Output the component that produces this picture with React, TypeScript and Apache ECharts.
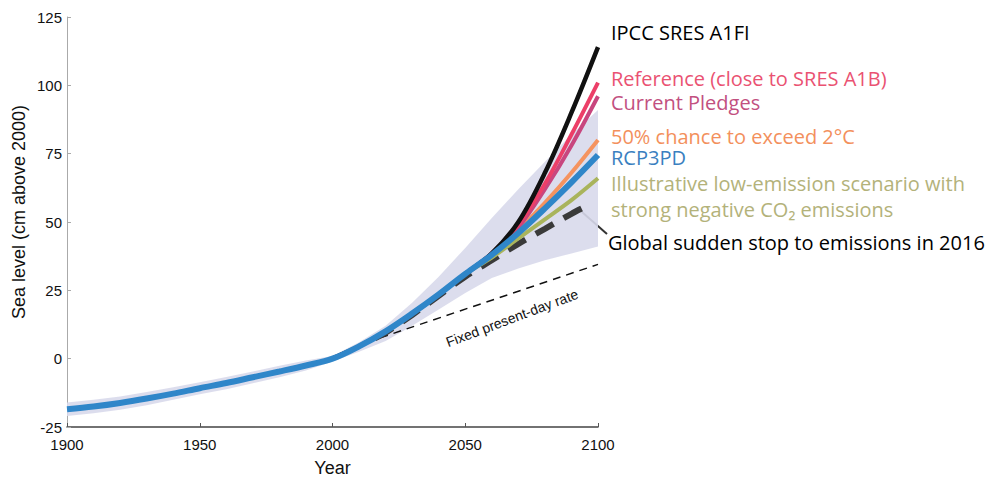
import React, { useEffect, useRef } from "react";
import * as echarts from "echarts";

// Observed sea level, 1900-2000 (cm relative to 2000)
const histYears = [1900, 1910, 1920, 1930, 1940, 1950, 1960, 1970, 1980, 1990, 2000];
const histLevel = [-18.5, -17.5, -16.2, -14.6, -12.8, -10.8, -8.9, -6.8, -4.7, -2.5, 0];

// Scenario projections, 2000-2100
const projYears = [2000, 2010, 2020, 2030, 2040, 2050, 2060, 2070, 2080, 2090, 2100];
const a1fi = [0, 4.5, 10, 16.5, 23.5, 31, 38.5, 50, 68, 90, 114];
const reference = [0, 4.5, 10, 16.5, 23.5, 31, 38.5, 49, 64, 82, 101];
const pledges = [0, 4.5, 10, 16.5, 23.5, 31, 38.5, 48, 62, 78, 96];
const twoDegree = [0, 4.5, 10, 16.5, 23.5, 31, 38, 47, 57, 68, 80];
const rcp3pd = [0, 4.5, 10, 16.5, 23.5, 31, 38, 46, 55, 64.5, 74.5];
const lowEmission = [0, 4.5, 10, 16.5, 23.5, 31, 37, 44, 51, 58, 66];

// Global sudden stop to emissions in 2016
const stopYears = [2016, 2020, 2030, 2040, 2050, 2060, 2070, 2080, 2090, 2095];
const stopLevel = [7.5, 9.5, 16, 23, 30, 36, 42, 47.5, 53, 55.5];

// Fixed present-day rate
const fixedYears = [2013, 2100];
const fixedLevel = [6, 34.5];

// Uncertainty range
const bandYears = [
  1900, 1910, 1920, 1930, 1940, 1950, 1960, 1970, 1980, 1990, 2000,
  2010, 2020, 2030, 2040, 2050, 2060, 2070, 2080, 2090, 2100,
];
const bandLow = [
  -21, -20, -18.7, -17, -15, -13, -11.2, -9, -6.8, -4.3, -1,
  2.5, 6.5, 12, 18, 24, 29.5, 33, 36, 38.5, 41,
];
const bandHigh = [
  -16, -15, -13.8, -12.2, -10.5, -8.6, -6.7, -4.7, -2.6, -0.7, 1,
  6, 12, 20.5, 30, 40.5, 51.5, 62, 72, 82, 91,
];

// Axis ticks
const xTicks = { min: 1900, max: 2100, interval: 50 };
const yTicks = { min: -25, max: 125, interval: 25 };

const pair = (xs: number[], ys: number[]) => xs.map((x, i) => [x, ys[i]]);

const labelFont = "'Open Sans', 'Noto Sans', sans-serif";
const axisFont = "'Liberation Sans', Arial, sans-serif";

export default function App() {
  const ref = useRef<HTMLDivElement>(null);

  useEffect(() => {
    document.body.style.margin = "0";
    const chart = echarts.init(ref.current!, null, { renderer: "svg" });

    const line = (
      name: string,
      xs: number[],
      ys: number[],
      color: string,
      width: number,
      z: number,
      type: any = "solid"
    ) => ({
      name,
      type: "line",
      data: pair(xs, ys),
      smooth: 0.35,
      symbol: "none",
      z,
      lineStyle: { color, width, type, cap: "butt" },
    });

    chart.setOption({
      animation: false,
      backgroundColor: "#ffffff",
      grid: { left: 67, right: 407, top: 17, bottom: 45, containLabel: false },
      xAxis: {
        type: "value",
        ...xTicks,
        name: "Year",
        nameLocation: "middle",
        nameGap: 32,
        nameTextStyle: { fontFamily: axisFont, fontSize: 18, color: "#111" },
        axisLine: { show: true, onZero: false, lineStyle: { color: "#444", width: 1.5 } },
        axisTick: { show: true, inside: true, length: 4, lineStyle: { color: "#555" } },
        axisLabel: {
          fontFamily: axisFont,
          fontSize: 15,
          color: "#111",
          margin: 10,
          formatter: (v: number) => String(v),
        },
        splitLine: { show: false },
      },
      yAxis: {
        type: "value",
        ...yTicks,
        axisLine: { show: true, onZero: false, lineStyle: { color: "#aaa", width: 1 } },
        axisTick: { show: true, inside: true, length: 4, lineStyle: { color: "#aaa" } },
        axisLabel: { fontFamily: axisFont, fontSize: 15, color: "#111", margin: 5 },
        splitLine: { show: false },
      },
      series: [
        {
          name: "Uncertainty range",
          type: "custom",
          silent: true,
          z: 1,
          data: bandYears.map((y, i) => [y, bandLow[i], bandHigh[i]]),
          encode: { x: 0, y: [1, 2] },
          renderItem: (params: any, api: any) => {
            if (params.dataIndex !== 0) return null;
            const upper = bandYears.map((y, i) => api.coord([y, bandHigh[i]]));
            const lower = bandYears.map((y, i) => api.coord([y, bandLow[i]])).reverse();
            return {
              type: "polygon",
              shape: { points: upper.concat(lower) },
              style: { fill: "#d8d9eb", opacity: 0.9 },
            };
          },
        },
        line("Fixed present-day rate", fixedYears, fixedLevel, "#111", 1.5, 2, [8, 6]),
        line("Global sudden stop to emissions in 2016", stopYears, stopLevel, "#3a3a3a", 6, 3, [20, 12]),
        line("Illustrative low-emission scenario", projYears, lowEmission, "#a9b45c", 4, 4),
        line("50% chance to exceed 2°C", projYears, twoDegree, "#f5935f", 4, 5),
        line("Current Pledges", projYears, pledges, "#c8467e", 4, 6),
        line("Reference (close to SRES A1B)", projYears, reference, "#ec3f68", 4, 7),
        line("IPCC SRES A1FI", projYears, a1fi, "#111111", 4.5, 8),
        line(
          "RCP3PD",
          histYears.concat(projYears.slice(1)),
          histLevel.concat(rcp3pd.slice(1)),
          "#2f86c9",
          6,
          9
        ),
      ],
    });

    const stopEnd = chart.convertToPixel({ gridIndex: 0 }, [2093, 54.5]) as number[];

    const label = (text: string, y: number, color: string, weight = "normal") => ({
      type: "text",
      x: 611,
      y,
      style: {
        text,
        fill: color,
        font: `${weight} 20px ${labelFont}`,
        lineHeight: 18,
        textVerticalAlign: "middle",
      },
    });

    chart.setOption({
      graphic: [
        {
          type: "text",
          x: 19,
          y: 212,
          rotation: Math.PI / 2,
          style: {
            text: "Sea level (cm above 2000)",
            fill: "#111",
            font: `18px ${axisFont}`,
            textAlign: "center",
            textVerticalAlign: "middle",
          },
        },
        label("IPCC SRES A1FI", 32, "#000000", "500"),
        label("Reference (close to SRES A1B)", 78, "#ea5272"),
        label("Current Pledges", 102, "#c2507f"),
        label("50% chance to exceed 2°C", 136, "#f3905c"),
        label("RCP3PD", 157, "#3a7fc0"),
        label("Illustrative low-emission scenario with", 183, "#b3b27a"),
        label("strong negative CO₂ emissions", 209, "#b3b27a"),
        { ...label("Global sudden stop to emissions in 2016", 242, "#000000", "500"), x: 608 },
        {
          type: "line",
          shape: { x1: stopEnd[0], y1: stopEnd[1], x2: 607, y2: 234 },
          style: { stroke: "#333", lineWidth: 2 },
        },
        {
          type: "text",
          x: 512,
          y: 318,
          rotation: 0.36,
          style: {
            text: "Fixed present-day rate",
            fill: "#111",
            font: `14px ${axisFont}`,
            textAlign: "center",
            textVerticalAlign: "middle",
          },
        },
      ],
    });

    return () => chart.dispose();
  }, []);

  return <div ref={ref} style={{ width: 1005, height: 482 }} />;
}
